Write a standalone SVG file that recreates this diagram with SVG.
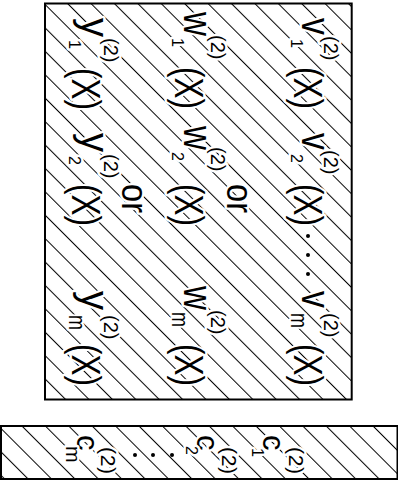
<svg xmlns="http://www.w3.org/2000/svg" width="398" height="482" viewBox="0 0 398 482">
<defs>
<pattern id="hatch" patternUnits="userSpaceOnUse" width="16.55" height="16.55" patternTransform="rotate(-45)">
<line x1="12.2" y1="-1" x2="12.2" y2="18" stroke="#000" stroke-width="1"/>
</pattern>
</defs>
<style>
.box{fill:url(#hatch);stroke:#000;stroke-width:2}
.t{font-family:"Liberation Sans",Arial,sans-serif;fill:#000;stroke:#fff;stroke-width:5;stroke-linejoin:round;paint-order:stroke}
.main{font-size:40px}
.or{font-size:36px}
.sub{font-size:16px}
.subm{font-size:24px}
.sup{font-size:20px}
.c{font-size:31px}
.bsub{font-size:20px}
.bsup{font-size:21px}
.dot{fill:#000}
</style>
<g id="connectors"/>
<g id="functions-box">
<rect class="box" x="45" y="3.5" width="306.7" height="396"/>
<g id="col-v">
<text class="t main" transform="translate(302,18) rotate(90)" textLength="17" lengthAdjust="spacingAndGlyphs">v</text>
<text class="t sub" transform="translate(291,39) rotate(90)">1</text>
<text class="t sup" transform="translate(324,36) rotate(90)">(2)</text>
<text class="t main" transform="translate(294,67) rotate(90)" textLength="42" lengthAdjust="spacingAndGlyphs">(X)</text>
<text class="t main" transform="translate(302,133) rotate(90)" textLength="17" lengthAdjust="spacingAndGlyphs">v</text>
<text class="t sub" transform="translate(291,154) rotate(90)">2</text>
<text class="t sup" transform="translate(324,150) rotate(90)">(2)</text>
<text class="t main" transform="translate(294,184) rotate(90)" textLength="42" lengthAdjust="spacingAndGlyphs">(X)</text>
<circle class="dot" cx="308" cy="236" r="2"/>
<circle class="dot" cx="308" cy="255" r="2"/>
<circle class="dot" cx="308" cy="274" r="2"/>
<text class="t main" transform="translate(302,291) rotate(90)" textLength="17" lengthAdjust="spacingAndGlyphs">v</text>
<text class="t subm" transform="translate(291,313) rotate(90)" textLength="15" lengthAdjust="spacingAndGlyphs">m</text>
<text class="t sup" transform="translate(324,313) rotate(90)">(2)</text>
<text class="t main" transform="translate(294,344) rotate(90)" textLength="42" lengthAdjust="spacingAndGlyphs">(X)</text>
</g>
<text class="t or" transform="translate(227,184) rotate(90)" textLength="29" lengthAdjust="spacingAndGlyphs">or</text>
<g id="col-w">
<text class="t main" transform="translate(184,12) rotate(90)" textLength="24" lengthAdjust="spacingAndGlyphs">w</text>
<text class="t sub" transform="translate(172,38) rotate(90)">1</text>
<text class="t sup" transform="translate(211,35) rotate(90)">(2)</text>
<text class="t main" transform="translate(175,67) rotate(90)" textLength="42" lengthAdjust="spacingAndGlyphs">(X)</text>
<text class="t main" transform="translate(184,126) rotate(90)" textLength="24" lengthAdjust="spacingAndGlyphs">w</text>
<text class="t sub" transform="translate(172,152) rotate(90)">2</text>
<text class="t sup" transform="translate(211,147) rotate(90)">(2)</text>
<text class="t main" transform="translate(175,184) rotate(90)" textLength="42" lengthAdjust="spacingAndGlyphs">(X)</text>
<text class="t main" transform="translate(184,286) rotate(90)" textLength="24" lengthAdjust="spacingAndGlyphs">w</text>
<text class="t subm" transform="translate(172,312) rotate(90)" textLength="15" lengthAdjust="spacingAndGlyphs">m</text>
<text class="t sup" transform="translate(211,310) rotate(90)">(2)</text>
<text class="t main" transform="translate(175,344) rotate(90)" textLength="42" lengthAdjust="spacingAndGlyphs">(X)</text>
</g>
<text class="t or" transform="translate(122,184) rotate(90)" textLength="29" lengthAdjust="spacingAndGlyphs">or</text>
<g id="col-y">
<text class="t main" transform="translate(81,18) rotate(90)" textLength="19" lengthAdjust="spacingAndGlyphs">y</text>
<text class="t sub" transform="translate(69,40) rotate(90)">1</text>
<text class="t sup" transform="translate(104,38) rotate(90)">(2)</text>
<text class="t main" transform="translate(72,68) rotate(90)" textLength="42" lengthAdjust="spacingAndGlyphs">(X)</text>
<text class="t main" transform="translate(81,133) rotate(90)" textLength="19" lengthAdjust="spacingAndGlyphs">y</text>
<text class="t sub" transform="translate(69,156) rotate(90)">2</text>
<text class="t sup" transform="translate(104,154) rotate(90)">(2)</text>
<text class="t main" transform="translate(72,184) rotate(90)" textLength="42" lengthAdjust="spacingAndGlyphs">(X)</text>
<text class="t main" transform="translate(81,291) rotate(90)" textLength="19" lengthAdjust="spacingAndGlyphs">y</text>
<text class="t subm" transform="translate(69,315) rotate(90)" textLength="15" lengthAdjust="spacingAndGlyphs">m</text>
<text class="t sup" transform="translate(104,315) rotate(90)">(2)</text>
<text class="t main" transform="translate(72,344) rotate(90)" textLength="42" lengthAdjust="spacingAndGlyphs">(X)</text>
</g>
</g>
<g id="constants-box">
<rect class="box" x="1" y="426" width="396.5" height="53"/>
<text class="t c" transform="translate(77,435) rotate(90)">c</text>
<text class="t bsub" transform="translate(66,446) rotate(90)">m</text>
<text class="t bsup" transform="translate(101,447) rotate(90)" textLength="27">(2)</text>
<circle class="dot" cx="135" cy="455" r="2"/>
<circle class="dot" cx="153" cy="455" r="2"/>
<circle class="dot" cx="172" cy="455" r="2"/>
<text class="t c" transform="translate(197,435) rotate(90)">c</text>
<text class="t sub" transform="translate(186,446) rotate(90)">2</text>
<text class="t bsup" transform="translate(222,447) rotate(90)" textLength="27">(2)</text>
<text class="t c" transform="translate(263,435) rotate(90)">c</text>
<text class="t sub" transform="translate(252,448) rotate(90)">1</text>
<text class="t bsup" transform="translate(289,447) rotate(90)" textLength="27">(2)</text>
</g>
</svg>
